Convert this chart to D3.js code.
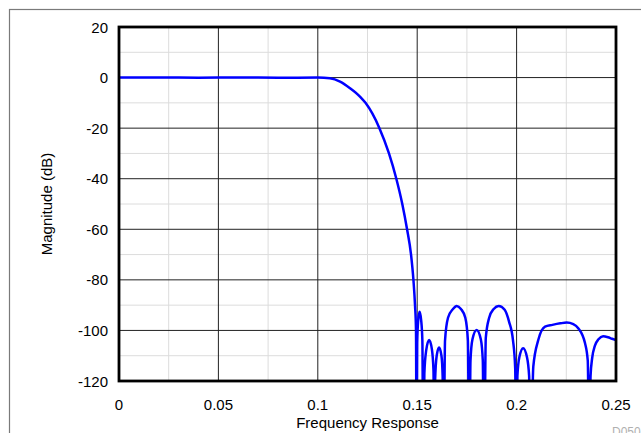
<!DOCTYPE html>
<html>
<head>
<meta charset="utf-8">
<script src="https://cdn.jsdelivr.net/npm/d3@7"></script>
<style>
  body { margin: 0; background: #fff; }
  svg { display: block; font-family: "Liberation Sans", Arial, sans-serif; }
</style>
</head>
<body>
<div id="chart"></div>
<script>
// frequency response (normalised freq, dB)
const freq = [
  0, 0.02, 0.04, 0.06, 0.08, 0.1, 0.1061, 0.1112, 0.1162, 0.1212, 0.124, 0.131,
  0.1358, 0.1395, 0.1425, 0.1449, 0.1469, 0.1481, 0.1489, 0.1494, 0.1497,
  0.15, 0.1505, 0.1512, 0.152, 0.1526, 0.1531,
  0.1536, 0.1545, 0.156, 0.1574, 0.1582, 0.1586,
  0.159, 0.1598, 0.161, 0.1622, 0.1628, 0.1632,
  0.164, 0.1655, 0.168, 0.1699, 0.172, 0.1742, 0.1755, 0.1762,
  0.1768, 0.1778, 0.1799, 0.182, 0.183, 0.1836,
  0.1845, 0.1862, 0.1885, 0.191, 0.194, 0.1962, 0.1982, 0.1993, 0.1999,
  0.2004, 0.2014, 0.2033, 0.2052, 0.2063, 0.207,
  0.2084, 0.2109, 0.2143, 0.218, 0.222, 0.2252, 0.2285, 0.231, 0.2344, 0.2358, 0.2366,
  0.2372, 0.238, 0.2394, 0.2412, 0.2435, 0.246, 0.248, 0.25
];
const magnitude = [
  0, 0.05, -0.05, 0.05, -0.05, 0, -0.3, -1.6, -4.2, -7.5, -10, -20,
  -30, -40, -50, -60, -70, -80, -90, -100, -160,
  -105, -96, -92.6, -96, -104, -160,
  -117, -108, -103.8, -107.5, -116, -160,
  -120, -110, -106.8, -110, -118, -160,
  -104, -95, -91.5, -90.3, -91.5, -95, -104, -160,
  -112, -103.5, -99.8, -103.5, -112, -160,
  -103, -95, -91.5, -90.3, -91.8, -96.5, -104, -115, -160,
  -118, -110.5, -107, -110.5, -118, -160,
  -114.3, -103.8, -98.5, -97.8, -97.2, -96.9, -97.5, -99.1, -105, -112, -160,
  -118, -111, -106, -103.5, -102.3, -102.7, -103.3, -103.8
];
const xTicks = [0, 0.05, 0.1, 0.15, 0.2, 0.25];
const yTicks = [20, 0, -20, -40, -60, -80, -100, -120];
const xMinor = [0.025, 0.075, 0.125, 0.175, 0.225];
const yMinor = [10, -10, -30, -50, -70, -90, -110];

const W = 641, H = 433;
const plot = {left: 119, right: 616, top: 27, bottom: 381};

const svg = d3.select("#chart").append("svg")
    .attr("width", W)
    .attr("height", H);

// outer frame (only left/top visible)
svg.append("rect")
    .attr("x", 9.5).attr("y", 9.5)
    .attr("width", W).attr("height", H)
    .attr("fill", "none")
    .attr("stroke", "#7a7a7a")
    .attr("stroke-width", 1.2);

const x = d3.scaleLinear().domain([0, 0.25]).range([plot.left, plot.right]);
const y = d3.scaleLinear().domain([-120, 20]).range([plot.bottom, plot.top]);

// minor grid
svg.append("g").selectAll("line").data(xMinor).join("line")
    .attr("x1", d => x(d)).attr("x2", d => x(d))
    .attr("y1", plot.top).attr("y2", plot.bottom)
    .attr("stroke", "#dcdcdc").attr("stroke-width", 1);
svg.append("g").selectAll("line").data(yMinor).join("line")
    .attr("x1", plot.left).attr("x2", plot.right)
    .attr("y1", d => y(d)).attr("y2", d => y(d))
    .attr("stroke", "#dcdcdc").attr("stroke-width", 1);

// major grid
svg.append("g").selectAll("line").data(xTicks).join("line")
    .attr("x1", d => x(d)).attr("x2", d => x(d))
    .attr("y1", plot.top).attr("y2", plot.bottom)
    .attr("stroke", "#222").attr("stroke-width", 1);
svg.append("g").selectAll("line").data(yTicks).join("line")
    .attr("x1", plot.left).attr("x2", plot.right)
    .attr("y1", d => y(d)).attr("y2", d => y(d))
    .attr("stroke", "#222").attr("stroke-width", 1);

// clip for curve
svg.append("clipPath").attr("id", "clip")
  .append("rect")
    .attr("x", plot.left).attr("y", plot.top)
    .attr("width", plot.right - plot.left)
    .attr("height", plot.bottom - plot.top);

const pts = freq.map((f, i) => [f, magnitude[i]]);
const line = d3.line()
    .x(d => x(d[0]))
    .y(d => y(d[1]))
    .curve(d3.curveMonotoneX);

svg.append("path")
    .datum(pts)
    .attr("clip-path", "url(#clip)")
    .attr("fill", "none")
    .attr("stroke", "#0000ff")
    .attr("stroke-width", 2.5)
    .attr("stroke-linejoin", "round")
    .attr("d", line);

// plot border
svg.append("rect")
    .attr("x", plot.left).attr("y", plot.top)
    .attr("width", plot.right - plot.left)
    .attr("height", plot.bottom - plot.top)
    .attr("fill", "none")
    .attr("stroke", "#000")
    .attr("stroke-width", 2.8);

// tick labels
svg.append("g").selectAll("text").data(xTicks).join("text")
    .attr("x", d => x(d)).attr("y", 410)
    .attr("text-anchor", "middle")
    .attr("font-size", 15)
    .text(d => d);
svg.append("g").selectAll("text").data(yTicks).join("text")
    .attr("x", 108).attr("y", d => y(d) + 5.5)
    .attr("text-anchor", "end")
    .attr("font-size", 15)
    .text(d => d);

// axis titles
svg.append("text")
    .attr("x", (plot.left + plot.right) / 2).attr("y", 428)
    .attr("text-anchor", "middle")
    .attr("font-size", 15)
    .text("Frequency Response");
svg.append("text")
    .attr("transform", `translate(52,${(plot.top + plot.bottom) / 2}) rotate(-90)`)
    .attr("text-anchor", "middle")
    .attr("font-size", 15)
    .text("Magnitude (dB)");

svg.append("text")
    .attr("x", 612).attr("y", 436)
    .attr("font-size", 12)
    .attr("fill", "#b0b0b0")
    .text("D050");
</script>
</body>
</html>
